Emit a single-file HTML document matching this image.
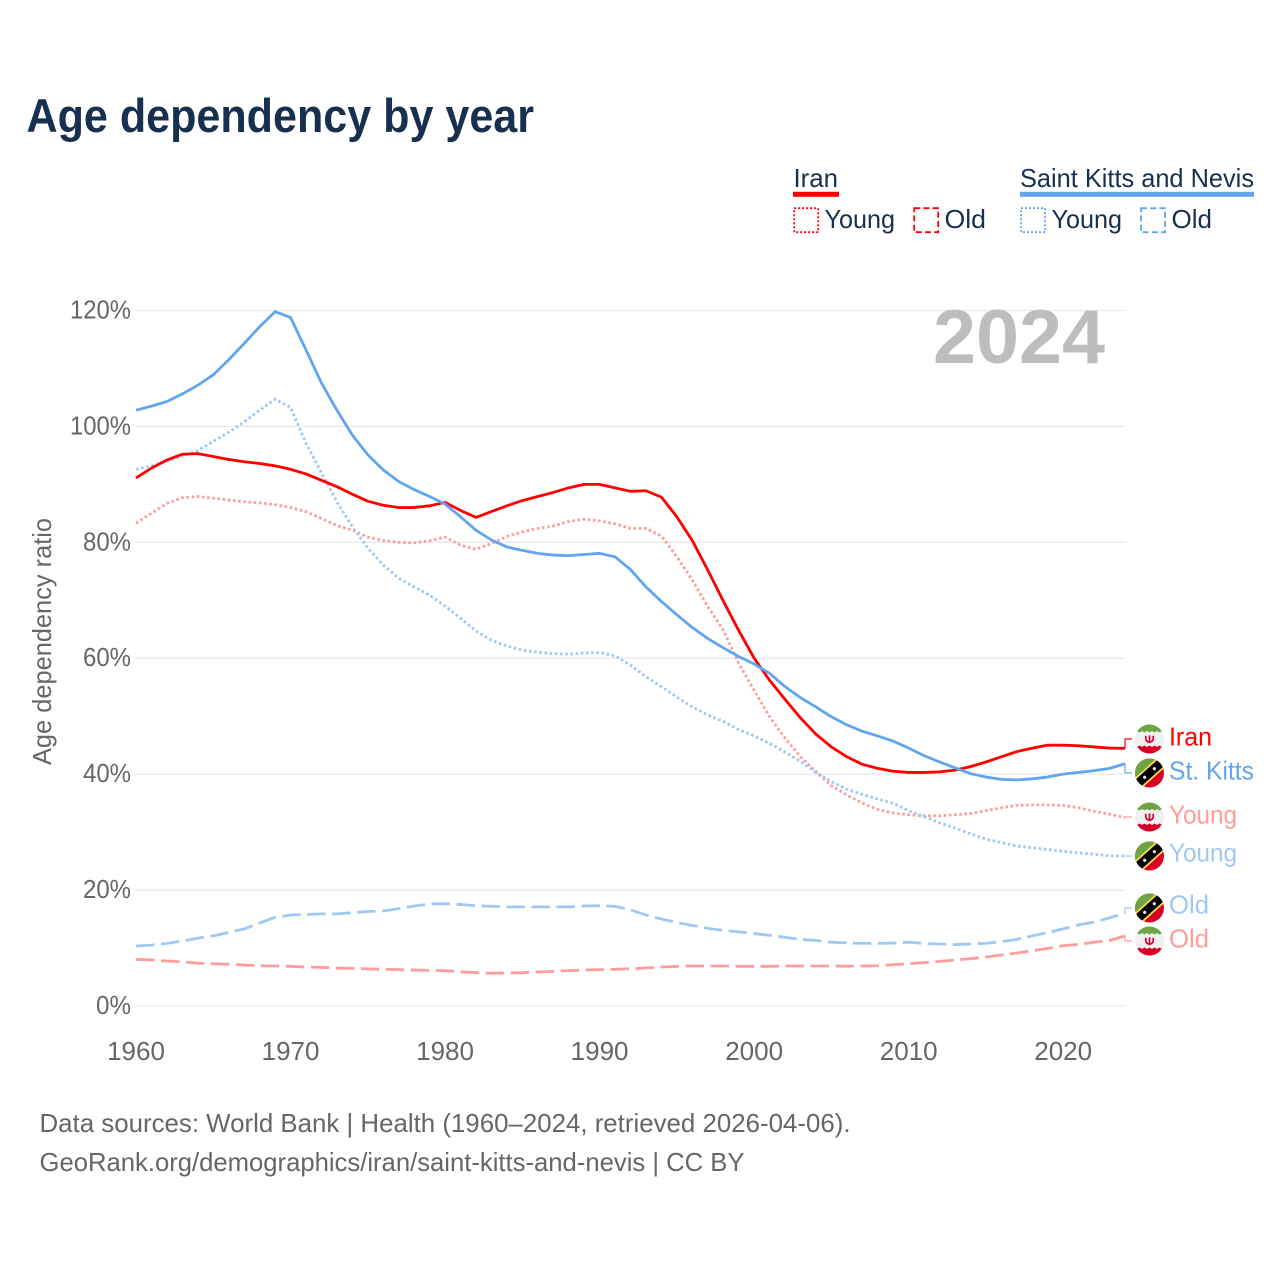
<!DOCTYPE html>
<html lang="en">
<head>
<meta charset="utf-8">
<title>Age dependency by year</title>
<style>
html,body{margin:0;padding:0;background:#fff;}
svg{display:block;font-family:"Liberation Sans",sans-serif;}
</style>
</head>
<body>
<svg id="chart" xmlns="http://www.w3.org/2000/svg" width="1280" height="1280" viewBox="0 0 1280 1280">
  <defs>
    <clipPath id="flag-clip"><circle cx="0" cy="0" r="14.5"/></clipPath>
    <g id="flag-iran" clip-path="url(#flag-clip)">
      <rect x="-15" y="-15" width="30" height="30" fill="#f0f0f0"/>
      <path d="M-15 -15H15V-6.5l-2.5 -1.5 -2.5 1.5 -2.5 -1.5 -2.5 1.5 -2.5 -1.5 -2.5 1.5 -2.5 -1.5 -2.5 1.5 -2.5 -1.5 -2.5 1.5 -2.5 -1.5 -2.5 1.5Z" fill="#6da544"/>
      <path d="M-15 15H15V6.5l-2.5 1.5 -2.5 -1.5 -2.5 1.5 -2.5 -1.5 -2.5 1.5 -2.5 -1.5 -2.5 1.5 -2.5 -1.5 -2.5 1.5 -2.5 -1.5 -2.5 1.5 -2.5 -1.5Z" fill="#d80027"/>
      <path d="M-3.6 -3.2C-4.4 1 -2.6 3 0 3C2.6 3 4.4 1 3.6 -3.2M0 -3.6V4.2" fill="none" stroke="#d80027" stroke-width="1.7"/>
    </g>
    <g id="flag-skn" clip-path="url(#flag-clip)">
      <rect x="-15" y="-15" width="30" height="30" fill="#d80027"/>
      <path d="M-15 -15H15L-15 15Z" fill="#6da544"/>
      <g transform="rotate(-42)">
        <rect x="-20" y="-6.2" width="40" height="12.4" fill="#ffda44"/>
        <rect x="-20" y="-4.4" width="40" height="8.8" fill="#000"/>
        <circle cx="-6.5" cy="0" r="1.6" fill="#f0f0f0"/>
        <circle cx="6.5" cy="0" r="1.6" fill="#f0f0f0"/>
      </g>
    </g>
  </defs>

  <text x="26.5" y="132" font-size="47" font-weight="700" fill="#17304f" textLength="507.5" lengthAdjust="spacingAndGlyphs">Age dependency by year</text>

  <g>
    <text x="793.5" y="187" font-size="26" fill="#17304f" textLength="44.5" lengthAdjust="spacingAndGlyphs">Iran</text>
    <rect x="793" y="191.8" width="46" height="5" fill="#ff0000"/>
    <rect x="794.2" y="208.2" width="24" height="24" fill="none" stroke="#ff0000" stroke-width="1.8" stroke-dasharray="2,2"/>
    <text x="824.5" y="228" font-size="26" fill="#17304f" textLength="70.5" lengthAdjust="spacingAndGlyphs">Young</text>
    <rect x="914.2" y="208.2" width="24" height="24" fill="none" stroke="#ff0000" stroke-width="1.8" stroke-dasharray="6,3.2"/>
    <text x="944.5" y="228" font-size="26" fill="#17304f" textLength="41.5" lengthAdjust="spacingAndGlyphs">Old</text>

    <text x="1020" y="187" font-size="26" fill="#17304f" textLength="234" lengthAdjust="spacingAndGlyphs">Saint Kitts and Nevis</text>
    <rect x="1020" y="191.8" width="234" height="5" fill="#60a5ee"/>
    <rect x="1021" y="208.2" width="24" height="24" fill="none" stroke="#60a5ee" stroke-width="1.8" stroke-dasharray="2,2"/>
    <text x="1051.5" y="228" font-size="26" fill="#17304f" textLength="70.5" lengthAdjust="spacingAndGlyphs">Young</text>
    <rect x="1141" y="208.2" width="24" height="24" fill="none" stroke="#60a5ee" stroke-width="1.8" stroke-dasharray="6,3.2"/>
    <text x="1171.5" y="228" font-size="26" fill="#17304f" textLength="40.5" lengthAdjust="spacingAndGlyphs">Old</text>
  </g>

  <g id="grid"></g>
  <g id="y-ticks"></g>
  <g id="x-ticks"></g>

  <text transform="translate(51,765) rotate(-90)" font-size="26" fill="#666" textLength="247" lengthAdjust="spacingAndGlyphs">Age dependency ratio</text>

  <text x="933" y="363" font-size="76" font-weight="700" fill="#bdbdbd" textLength="172" lengthAdjust="spacingAndGlyphs">2024</text>

  <g id="series"></g>
  <g id="connectors"></g>

  <g>
    <use href="#flag-iran" transform="translate(1149.5,739)"/>
    <text x="1169" y="745.5" font-size="26" fill="#ff0000" textLength="43" lengthAdjust="spacingAndGlyphs">Iran</text>
    <use href="#flag-skn" transform="translate(1149.5,773)"/>
    <text x="1169" y="779.5" font-size="26" fill="#60a5ee" textLength="85" lengthAdjust="spacingAndGlyphs">St. Kitts</text>
    <use href="#flag-iran" transform="translate(1149.5,817)"/>
    <text x="1169" y="823.5" font-size="26" fill="#ff9c9c" textLength="68" lengthAdjust="spacingAndGlyphs">Young</text>
    <use href="#flag-skn" transform="translate(1149.5,856)"/>
    <text x="1169" y="861.5" font-size="26" fill="#9fc8f3" textLength="68" lengthAdjust="spacingAndGlyphs">Young</text>
    <use href="#flag-skn" transform="translate(1149.5,908)"/>
    <text x="1169" y="913.5" font-size="26" fill="#9fc8f3" textLength="40" lengthAdjust="spacingAndGlyphs">Old</text>
    <use href="#flag-iran" transform="translate(1149.5,941)"/>
    <text x="1169" y="947.5" font-size="26" fill="#ff9c9c" textLength="40" lengthAdjust="spacingAndGlyphs">Old</text>
  </g>

  <text x="39.5" y="1132" font-size="26" fill="#666" textLength="811" lengthAdjust="spacingAndGlyphs">Data sources: World Bank | Health (1960–2024, retrieved 2026-04-06).</text>
  <text x="39.5" y="1171" font-size="26" fill="#666" textLength="705" lengthAdjust="spacingAndGlyphs">GeoRank.org/demographics/iran/saint-kitts-and-nevis | CC BY</text>
</svg>

<script>
const startYear = 1960;
const yTicks = [0, 20, 40, 60, 80, 100, 120];
const yTickLabels = ['0%', '20%', '40%', '60%', '80%', '100%', '120%'];
const xTicks = [1960, 1970, 1980, 1990, 2000, 2010, 2020];
const xTickLabels = ['1960', '1970', '1980', '1990', '2000', '2010', '2020'];

const iranTotal = [91.1,92.8,94.2,95.2,95.3,94.8,94.3,93.9,93.6,93.2,92.6,91.8,90.7,89.6,88.3,87.1,86.4,86,86,86.3,86.9,85.5,84.3,85.3,86.3,87.2,87.9,88.6,89.4,90,90,89.4,88.8,88.9,87.8,84.4,80.3,75.2,69.9,64.8,60,56.2,52.9,49.7,46.9,44.7,43,41.7,41,40.5,40.3,40.3,40.4,40.7,41.3,42.1,43,43.9,44.5,45,45,44.9,44.7,44.5,44.45];
const iranYoung = [83.3,85,86.7,87.7,87.9,87.6,87.3,87,86.8,86.5,86,85.3,84.1,82.9,82.1,80.9,80.3,80,79.9,80.3,80.9,79.5,78.8,79.8,81,81.8,82.4,82.8,83.6,84,83.7,83.2,82.4,82.4,81.1,77.5,73.5,68.9,64.9,59.1,54.5,49.9,46.2,43,40.4,38,36.4,35,33.9,33.3,33,32.8,32.8,33,33.2,33.7,34.2,34.6,34.7,34.7,34.6,34.2,33.6,33.1,32.5];
const iranOld = [8.05,7.95,7.76,7.6,7.4,7.3,7.2,7.07,6.95,6.9,6.85,6.73,6.67,6.55,6.5,6.4,6.33,6.27,6.2,6.15,6.1,5.9,5.75,5.64,5.7,5.75,5.87,5.98,6.1,6.2,6.27,6.33,6.44,6.55,6.73,6.85,6.9,6.9,6.9,6.85,6.85,6.85,6.9,6.9,6.9,6.9,6.87,6.9,6.95,7.13,7.3,7.47,7.7,7.94,8.16,8.45,8.8,9.14,9.54,9.95,10.4,10.64,11,11.3,12.1];
const sknTotal = [102.8,103.5,104.3,105.6,107.1,108.9,111.5,114.3,117.2,119.8,118.8,113.2,107.5,102.8,98.5,95.1,92.5,90.5,89.1,87.9,86.6,84.4,82.1,80.4,79.2,78.6,78.1,77.8,77.7,77.9,78.1,77.5,75.3,72.3,69.8,67.5,65.3,63.4,61.8,60.3,59,57.4,55.1,53.2,51.6,49.9,48.5,47.4,46.6,45.7,44.5,43.2,42.1,41.1,40.1,39.5,39.1,39,39.2,39.5,40,40.3,40.6,41,41.8];
const sknYoung = [92.6,93.2,94,94.9,95.8,97.4,99,100.8,102.8,104.7,103.3,97.1,92,87,82.7,79,76.1,73.8,72.3,70.9,69,66.9,64.7,63.1,62.1,61.4,61,60.8,60.7,60.9,61,60.4,58.8,56.8,55.1,53.3,51.6,50.2,49.1,47.7,46.6,45.3,43.8,42.2,40.3,38.7,37.4,36.5,35.7,35,33.7,32.7,31.6,30.7,29.7,28.8,28.2,27.6,27.3,27,26.7,26.4,26.2,25.9,25.9];
const sknOld = [10.35,10.5,10.8,11.2,11.7,12.1,12.7,13.3,14.3,15.3,15.7,15.8,15.9,15.9,16.1,16.3,16.4,16.8,17.25,17.6,17.65,17.5,17.3,17.2,17.1,17.1,17.1,17.1,17.1,17.25,17.3,17.2,16.6,15.7,15,14.4,13.9,13.4,13.05,12.8,12.5,12.2,11.85,11.5,11.3,11,10.9,10.8,10.8,10.85,11,10.8,10.7,10.6,10.7,10.8,11.1,11.5,12.1,12.65,13.3,14,14.5,15.2,16];

const SVG_NS = 'http://www.w3.org/2000/svg';
function xScale(year) { return 136 + (year - 1960) * (989 / 64); }
function yScale(value) { return 1006 - value * 5.796; }

const gridLayer = document.getElementById('grid');
const yTickLayer = document.getElementById('y-ticks');
const xTickLayer = document.getElementById('x-ticks');
const seriesLayer = document.getElementById('series');
const connectorLayer = document.getElementById('connectors');

yTicks.forEach(function (tick, i) {
  const line = document.createElementNS(SVG_NS, 'line');
  
  
  line.setAttribute('x1', 135);
  line.setAttribute('x2', 1125);
  line.setAttribute('y1', yScale(tick));
  line.setAttribute('y2', yScale(tick));
  line.setAttribute('stroke', '#e9e9e9');
  line.setAttribute('stroke-width', '1.3');
  gridLayer.appendChild(line);

  const label = document.createElementNS(SVG_NS, 'text');
  
  
  const w = (yTickLabels[i].length - 1) * 13 + 22;
  label.setAttribute('x', 131 - w);
  label.setAttribute('y', yScale(tick) + 8);
  label.setAttribute('font-size', '26');
  label.setAttribute('fill', '#666');
  label.setAttribute('textLength', w);
  label.setAttribute('lengthAdjust', 'spacingAndGlyphs');
  label.textContent = yTickLabels[i];
  yTickLayer.appendChild(label);
});

xTicks.forEach(function (tick, i) {
  const label = document.createElementNS(SVG_NS, 'text');
  
  
  label.setAttribute('x', xScale(tick));
  label.setAttribute('y', 1060);
  label.setAttribute('font-size', '26');
  label.setAttribute('fill', '#666');
  label.setAttribute('text-anchor', 'middle');
  label.textContent = xTickLabels[i];
  xTickLayer.appendChild(label);
});

function drawSeries(name, values, color, dash) {
  const d = values.map(function (v, i) {
    return (i ? 'L' : 'M') + xScale(startYear + i).toFixed(2) + ' ' + yScale(v).toFixed(2);
  }).join('');
  const path = document.createElementNS(SVG_NS, 'path');
  
  
  path.setAttribute('d', d);
  path.setAttribute('fill', 'none');
  path.setAttribute('stroke', color);
  path.setAttribute('stroke-width', '2.8');
  path.setAttribute('stroke-linejoin', 'round');
  if (dash) path.setAttribute('stroke-dasharray', dash);
  seriesLayer.appendChild(path);
}

function drawConnector(name, values, color, labelY) {
  const endY = yScale(values[values.length - 1]);
  const path = document.createElementNS(SVG_NS, 'path');
  
  
  path.setAttribute('d', 'M1125 ' + endY.toFixed(2) + 'V' + labelY + 'H1132');
  path.setAttribute('fill', 'none');
  path.setAttribute('stroke', color);
  path.setAttribute('stroke-width', '1.2');
  connectorLayer.appendChild(path);
}

const DOTTED = '2.6,2.6';
const DASHED = '18.5,6.5';

drawSeries('line-iran-old', iranOld, '#ff9c9c', DASHED);
drawSeries('line-skn-old', sknOld, '#9fc8f3', DASHED);
drawSeries('line-iran-young', iranYoung, '#ff9c9c', DOTTED);
drawSeries('line-skn-young', sknYoung, '#9fc8f3', DOTTED);
drawSeries('line-iran-total', iranTotal, '#ff0000', null);
drawSeries('line-skn-total', sknTotal, '#60a5ee', null);

drawConnector('connector-iran-total', iranTotal, '#ff0000', 739);
drawConnector('connector-skn-total', sknTotal, '#60a5ee', 773);
drawConnector('connector-iran-young', iranYoung, '#ff9c9c', 817);
drawConnector('connector-skn-young', sknYoung, '#9fc8f3', 856);
drawConnector('connector-skn-old', sknOld, '#9fc8f3', 908);
drawConnector('connector-iran-old', iranOld, '#ff9c9c', 941);
</script>
</body>
</html>
